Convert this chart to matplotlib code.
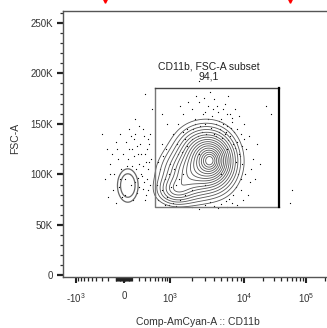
import numpy as np
import matplotlib
matplotlib.use("Agg")
import matplotlib.pyplot as plt
from matplotlib.lines import Line2D

plt.rcParams['font.family'] = ['Liberation Sans', 'DejaVu Sans']

# --- axis setup (FlowJo-like biexponential x axis) ---
C = 300.0
anchor_vals = np.array([-1e7, -10000, -1000, 0, 1000, 10000, 100000, 262144, 1e7])
anchor_pos = np.array([-220, 2, 76, 124, 170, 244, 306, 332, 430])
anchor_g = np.arcsinh(anchor_vals / C)

def forward(x):
    return np.interp(np.arcsinh(np.asarray(x, dtype=float) / C), anchor_g, anchor_pos)

def inverse(p):
    return C * np.sinh(np.interp(np.asarray(p, dtype=float), anchor_pos, anchor_g))

x_major = [-1000, 0, 1000, 10000, 100000]
x_major_labels = ['-' + r'$\mathregular{10^{3}}$', '0', r'$\mathregular{10^{3}}$',
                  r'$\mathregular{10^{4}}$', r'$\mathregular{10^{5}}$']
x_minor = ([-v for v in range(100, 1000, 100)] + list(range(100, 1000, 100)) +
           list(range(2000, 10000, 1000)) + list(range(20000, 100000, 10000)) + [200000])
x_zero_band = list(range(-90, 100, 10))
y_major = [0, 50000, 100000, 150000, 200000, 250000]
y_major_labels = ['0', '50K', '100K', '150K', '200K', '250K']
y_minor = list(range(0, 262144, 10000))

# --- gate ---
gate_x = [500, 36700]
gate_y = [67700, 185000]
gate_name = "CD11b, FSC-A subset"
gate_pct = "94,1"

# --- population density components (centre x value, centre y, spread in display units, weight) ---
main_cx = [3900, 1900, 2500, 1200]
main_cy = [113000, 100000, 124000, 84000]
main_sx = [12, 15, 13, 10]
main_sy = [15, 14, 13, 8]
main_w = [1.0, 0.55, 0.4, 0.3]
main_floor = 66000
main_levels = [0.03, 0.06, 0.10, 0.15, 0.21, 0.28, 0.35, 0.43, 0.51, 0.59,
               0.67, 0.75, 0.82, 0.88, 0.93, 0.97]

small_cx = [50]
small_cy = [89000]
small_sx = [5]
small_sy = [8]
small_levels = [0.12, 0.35]

# --- outlier events (x value, y value in K) ---
dots_x = [-250, -180, -120, -60, -200, -150, -90, -30, 50, 100, 150, 60, -40, 200, 250, 300,
          350, 400, 180, 120, -100, 20, 80, 140, 220, 280, 320, 380, 420, -220, -10, 30,
          160, 240, 260, 90, 330, 370, 210, -70, 110, 190, 130, 270, 340, 400,
          1300, 1500, 1700, 2000, 2200, 2500, 2800, 3000, 3300, 3700, 4000, 4500, 5000, 5500,
          6000, 6500, 7000, 8000, 9000, 10000, 2300, 3500, 1800, 4200, 4800, 5800, 3100, 2600,
          7500, 12000, 1600, 1100, 2900, 6200, 3900, 5200, 8500, 1400, 2100,
          23000, 27000, 60000, 55000, 300, 2500,
          600, 700, 800, 650, 900, 1000, 750, 550, 850, 950, 1100, 1200, 700, 1300, 600, 1050,
          520, 800, 1400,
          8500, 9500, 10500, 11000, 12500, 14000, 9000, 13000, 16000, 10000, 11500, 15000,
          18000, 9800, 8200,
          2000, 3000, 4000, 5000, 6000, 7000, 2500, 3500, 4500,
          1500, 2500, 3000, 5000, 2000, 6000, 4000, 1200,
          4200, 4600, 5100, 5600, 6100, 6600, 7100, 7600, 8100, 7300, 6800, 5300, 4700, 3600,
          3300, 2700, 2400, 2000, 1700, 1450, 8800, 9300, 7800, 8400, 9200, 7900, 7200, 6400,
          5700, 1600, 1350, 1150, 950, 1250, 1500, 5900, 6900, 4400, 3000, 2200,
          -130, -50, 10, 70, 130, 190, 230, 290, 310, 360, -180, -80, 40, 170, 260, 200,
          350, 300, -20, 90,
          700, 900, 450, -300, 150]
dots_y = [95, 110, 100, 88, 78, 120, 132, 105, 115, 125, 140, 145, 140, 110, 98, 120,
          105, 90, 82, 75, 72, 95, 100, 92, 130, 138, 80, 130, 115, 125, 120, 132,
          105, 120, 86, 138, 95, 112, 148, 115, 108, 96, 118, 108, 125, 140,
          150, 160, 145, 165, 155, 172, 160, 150, 168, 158, 175, 162, 155, 170,
          148, 160, 152, 145, 140, 150, 178, 182, 172, 150, 145, 142, 140, 148,
          165, 138, 135, 140, 176, 178, 165, 165, 158, 168, 145,
          168, 160, 85, 72, 180, 192,
          75, 85, 95, 105, 78, 110, 118, 90, 125, 70, 72, 69, 130, 120, 112, 88,
          80, 70, 75,
          120, 110, 100, 125, 92, 115, 85, 105, 130, 135, 80, 95,
          110, 75, 70,
          68, 70, 69, 71, 68, 72, 66, 73, 67,
          100, 120, 90, 100, 85, 125, 140, 90,
          138, 142, 136, 140, 134, 138, 130, 126, 132, 142, 146, 150, 153, 146,
          155, 142, 138, 135, 128, 122, 118, 128, 112, 100, 95, 88, 80, 76,
          74, 80, 95, 105, 100, 130, 142, 160, 156, 168, 162, 150,
          85, 95, 80, 125, 135, 120, 100, 92, 112, 135, 100, 125, 108, 128, 145, 88,
          85, 75, 78, 90,
          160, 150, 165, 140, 155]

# --- figure ---
fig = plt.figure(figsize=(3.27, 3.28), dpi=100)
ax = fig.add_axes([63 / 327, 1 - 277 / 328, (332 - 63) / 327, (277 - 10.5) / 328])
ax.set_xscale('function', functions=(forward, inverse))
ax.set_xlim(-1500, 262144)
ax.set_ylim(-1500, 262144)

# density grids in display units
u = np.linspace(64, 331, 500)
v = np.linspace(0, 262, 500)
U, V = np.meshgrid(u, v)
Xd = inverse(U)
Yd = V * 1000

def density(cx, cy, sx, sy, w):
    z = np.zeros_like(U)
    for a, b, s1, s2, k in zip(cx, cy, sx, sy, w):
        z += k * np.exp(-0.5 * (((U - forward(a)) / s1) ** 2 + ((V - b / 1000) / s2) ** 2))
    return z

Zm = density(main_cx, main_cy, main_sx, main_sy, main_w)
Zm = Zm / (1 + np.exp(-(V - main_floor / 1000) / 5.0))
Zm = Zm / Zm.max()
ax.contour(Xd, Yd, Zm, levels=main_levels, colors='#555555', linewidths=0.6)
Zs = density(small_cx, small_cy, small_sx, small_sy, [1.0])
Zs = Zs / Zs.max()
ax.contour(Xd, Yd, Zs, levels=small_levels, colors='#666666', linewidths=0.9)

ax.scatter(dots_x, np.array(dots_y) * 1000, s=0.8, color='black', linewidths=0)

# gate
ax.plot([gate_x[0], gate_x[0], gate_x[1]], [gate_y[1], gate_y[0], gate_y[0]],
        color='#777777', lw=1.0)
ax.plot([gate_x[0], gate_x[1]], [gate_y[1], gate_y[1]], color='#444444', lw=1.0)
ax.plot([gate_x[1], gate_x[1]], [gate_y[0], gate_y[1]], color='black', lw=1.6)
xc = inverse((forward(gate_x[0]) + forward(gate_x[1])) / 2 - 8)
ax.annotate(gate_name + "\n" + gate_pct, xy=(xc, gate_y[1]), xytext=(0, 5),
            textcoords='offset points', ha='center', va='bottom', fontsize=7.5,
            color='#222222', linespacing=1.05)

# ticks
ax.set_xticks(x_major)
ax.set_xticklabels(x_major_labels)
ax.set_xticks(x_minor + x_zero_band, minor=True)
ax.set_yticks(y_major)
ax.set_yticklabels(y_major_labels)
ax.set_yticks(y_minor, minor=True)
ax.tick_params(axis='x', which='major', length=4, width=1.5, color='#222222',
               labelsize=7, labelcolor='#333333', pad=6)
ax.tick_params(axis='x', which='minor', length=2.8, width=0.9, color='#222222')
ax.tick_params(axis='y', which='major', length=4, width=1.6, color='#222222',
               labelsize=7, labelcolor='#333333', pad=3)
ax.tick_params(axis='y', which='minor', length=2.5, width=0.9, color='#333333')
for s in ['left', 'bottom', 'top', 'right']:
    ax.spines[s].set_color('#555555')
    ax.spines[s].set_linewidth(1.0)

fig.text(15 / 327, 1 - 138 / 328, "FSC-A", rotation=90, ha='center', va='center',
         fontsize=7.5, color='#333333')
fig.text(198 / 327, 1 - 322 / 328, "Comp-AmCyan-A :: CD11b", ha='center', va='center',
         fontsize=7.5, color='#333333')

# red marks cut at the top edge
for xr in [105, 290]:
    fig.add_artist(Line2D([xr / 327], [1 - 1 / 328], marker='v', color='red',
                          markersize=2.5, transform=fig.transFigure))

fig.savefig("out.png", dpi=100)
